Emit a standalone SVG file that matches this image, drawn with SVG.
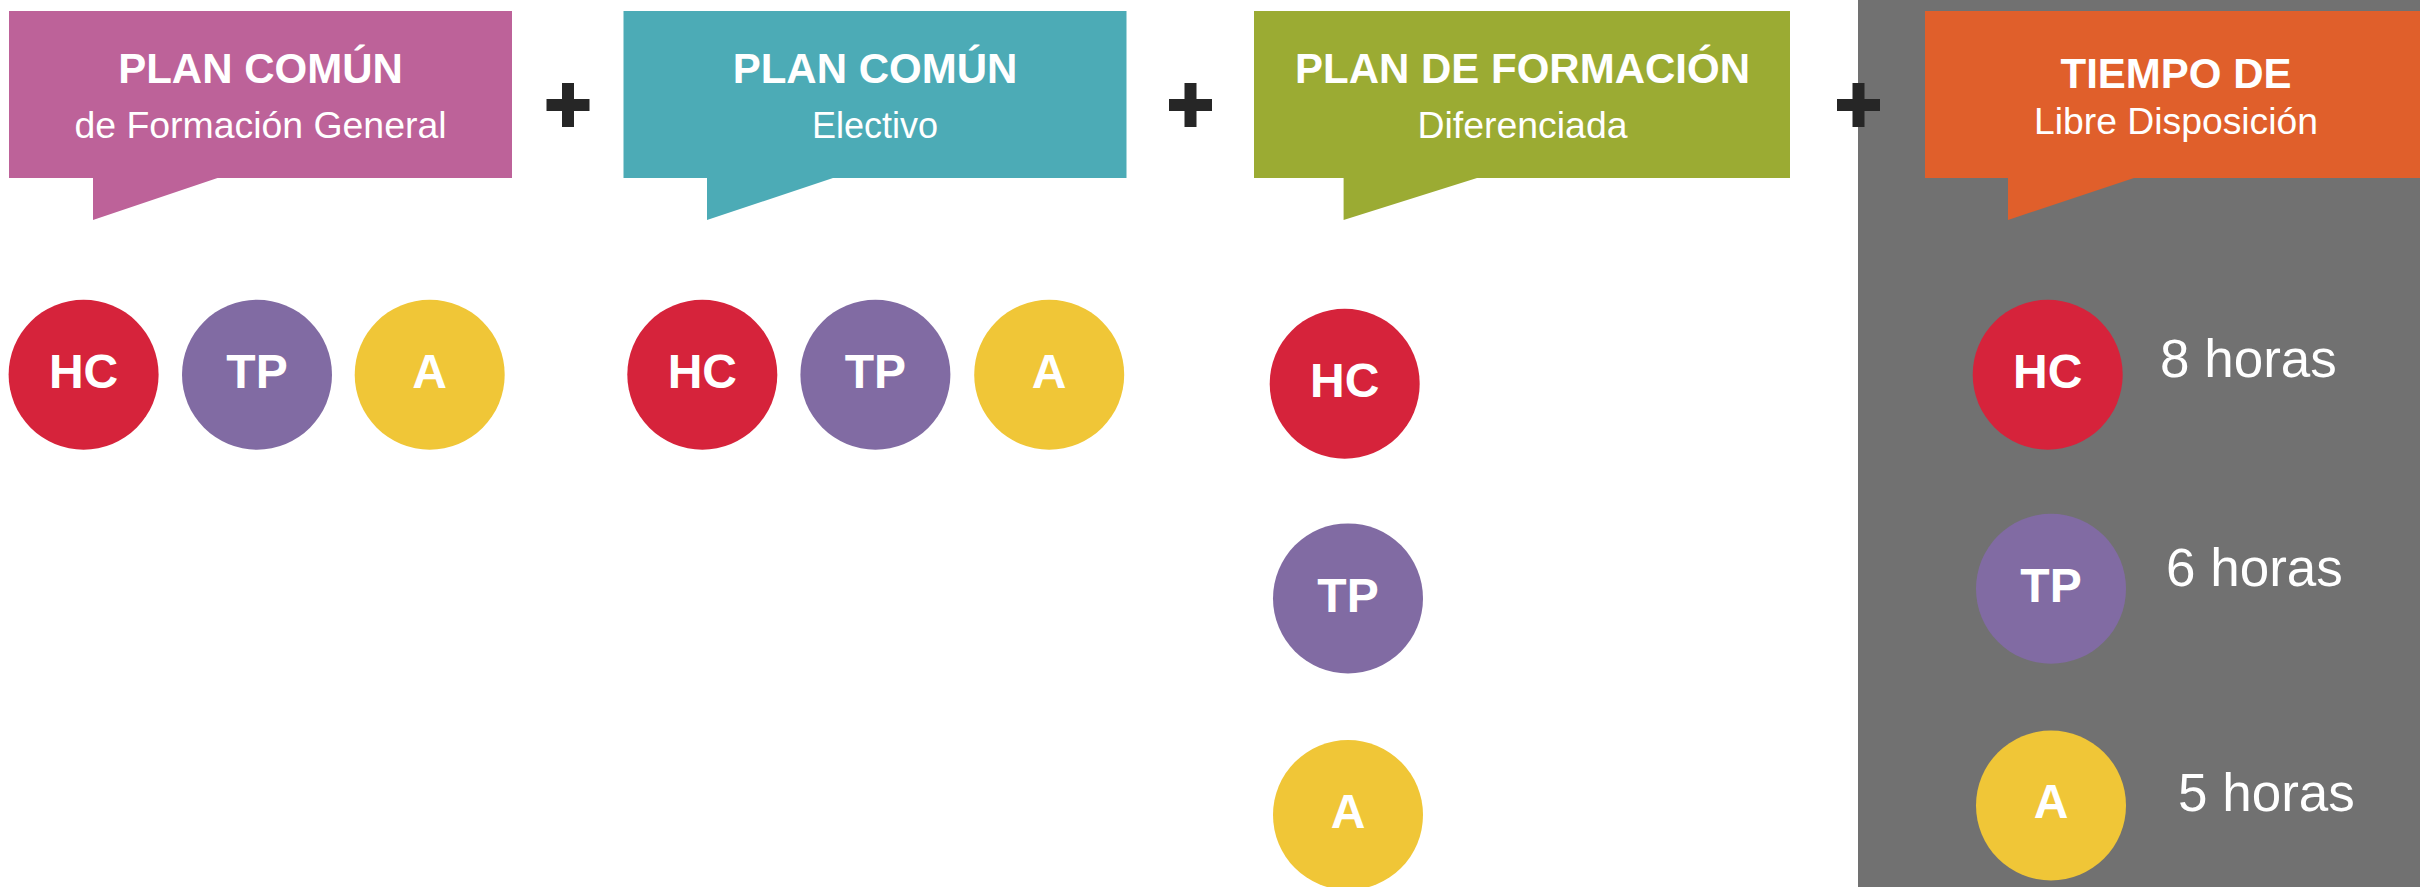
<svg xmlns="http://www.w3.org/2000/svg" width="2420" height="887" viewBox="0 0 2420 887">
  <style>
    .title { font-family: "Liberation Sans", Arial, sans-serif; font-weight: bold; font-size: 42px; fill: #ffffff; text-anchor: middle; }
    .sub { font-family: "Liberation Sans", Arial, sans-serif; font-size: 36px; fill: #ffffff; text-anchor: middle; }
    .ctext { font-family: "Liberation Sans", Arial, sans-serif; font-weight: bold; font-size: 48px; fill: #ffffff; text-anchor: middle; }
    .hours { font-family: "Liberation Sans", Arial, sans-serif; font-size: 53px; fill: #ffffff; }
    .plus { fill: #262626; }
    .hc { fill: #D6233B; }
    .tp { fill: #816BA3; }
    .a { fill: #F0C637; }
  </style>
  <defs>
    <path id="plusShape" d="M-21.5,-6 H-6 V-22 H6 V-6 H21.5 V6 H6 V22 H-6 V6 H-21.5 Z"/>
  </defs>
  <rect x="0" y="0" width="2420" height="887" fill="#ffffff"/>
  <rect id="libre-bg" x="1858" y="0" width="562" height="887" fill="#717171"/>

  <g id="bubble-pcfg">
    <path d="M9,11 H512 V178 H217.5 L93,220 V178 H9 Z" fill="#BD6299"/>
    <text class="title" x="260.5" y="83">PLAN COMÚN</text>
    <text class="sub" x="260.5" y="138" textLength="372" lengthAdjust="spacingAndGlyphs">de Formación General</text>
  </g>
  <g id="bubble-pce">
    <path d="M623.5,11 H1126.5 V178 H833 L707,220 V178 H623.5 Z" fill="#4CABB6"/>
    <text class="title" x="875" y="83">PLAN COMÚN</text>
    <text class="sub" x="875" y="138">Electivo</text>
  </g>
  <g id="bubble-pfd">
    <path d="M1254,11 H1790 V178 H1477 L1343.6,220 V178 H1254 Z" fill="#9BAB33"/>
    <text class="title" x="1522.5" y="83">PLAN DE FORMACIÓN</text>
    <text class="sub" x="1522.5" y="138" textLength="210" lengthAdjust="spacingAndGlyphs">Diferenciada</text>
  </g>
  <g id="bubble-tld">
    <path d="M1925,11 H2420 V178 H2134 L2008,220 V178 H1925 Z" fill="#E05F2B"/>
    <text class="title" x="2176" y="88">TIEMPO DE</text>
    <text class="sub" x="2176" y="134" textLength="284" lengthAdjust="spacingAndGlyphs">Libre Disposición</text>
  </g>

  <g id="connectors">
    <use href="#plusShape" class="plus" x="568" y="105"/>
    <use href="#plusShape" class="plus" x="1190.5" y="105"/>
    <use href="#plusShape" class="plus" x="1858.5" y="105"/>
  </g>

  <g id="pcfg-hc"><circle class="hc" cx="83.6" cy="374.7" r="75"/><text class="ctext" x="83.6" y="388">HC</text></g>
  <g id="pcfg-tp"><circle class="tp" cx="257" cy="374.7" r="75"/><text class="ctext" x="257" y="388">TP</text></g>
  <g id="pcfg-a"><circle class="a" cx="429.7" cy="374.7" r="75"/><text class="ctext" x="429.7" y="388">A</text></g>

  <g id="pce-hc"><circle class="hc" cx="702.3" cy="374.7" r="75"/><text class="ctext" x="702.3" y="388">HC</text></g>
  <g id="pce-tp"><circle class="tp" cx="875.4" cy="374.7" r="75"/><text class="ctext" x="875.4" y="388">TP</text></g>
  <g id="pce-a"><circle class="a" cx="1049.2" cy="374.7" r="75"/><text class="ctext" x="1049.2" y="388">A</text></g>

  <g id="pfd-hc"><circle class="hc" cx="1344.7" cy="383.7" r="75"/><text class="ctext" x="1344.7" y="397">HC</text></g>
  <g id="pfd-tp"><circle class="tp" cx="1348" cy="598.4" r="75"/><text class="ctext" x="1348" y="612">TP</text></g>
  <g id="pfd-a"><circle class="a" cx="1348" cy="815" r="75"/><text class="ctext" x="1348" y="828">A</text></g>

  <g id="tld-hc"><circle class="hc" cx="2047.7" cy="374.7" r="75"/><text class="ctext" x="2047.7" y="388">HC</text><text class="hours" x="2160" y="377">8 horas</text></g>
  <g id="tld-tp"><circle class="tp" cx="2051" cy="588.8" r="75"/><text class="ctext" x="2051" y="602">TP</text><text class="hours" x="2166" y="586">6 horas</text></g>
  <g id="tld-a"><circle class="a" cx="2051" cy="805.5" r="75"/><text class="ctext" x="2051" y="818">A</text><text class="hours" x="2178" y="811">5 horas</text></g>
</svg>
